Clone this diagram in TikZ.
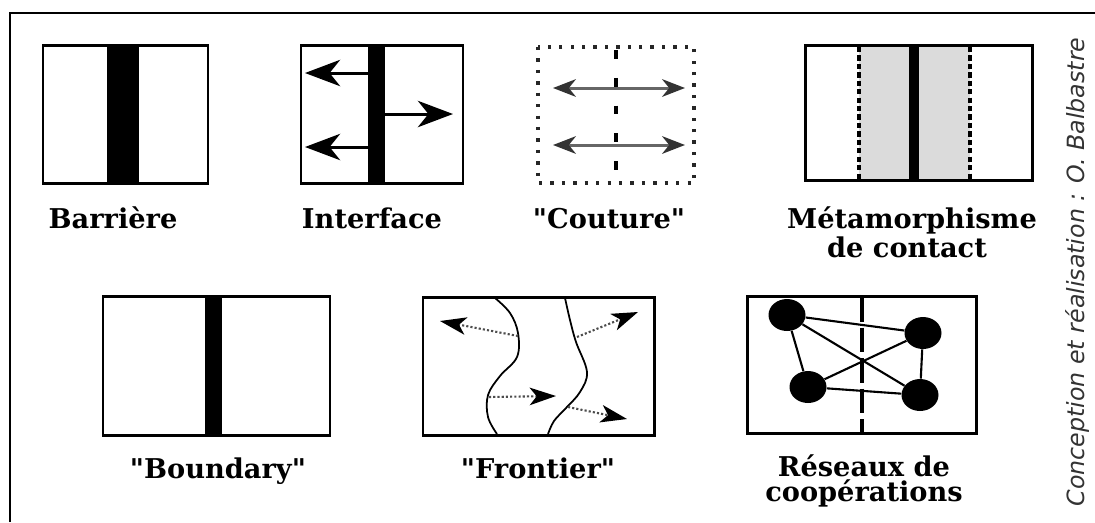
\documentclass[tikz,border=0pt]{standalone}
\usepackage{fontspec}
\setmainfont{DejaVu Serif}[Ligatures=TeXOff]
\newfontfamily\creditfont{DejaVu Sans}
\usetikzlibrary{arrows.meta,shapes.geometric}
\begin{document}
\begin{tikzpicture}[x=0.02cm,y=-0.02cm,
  box/.style={line width=1.7pt},
  lbl/.style={font=\fontsize{15.5}{18}\selectfont\bfseries, anchor=base, inner sep=0pt},
  bigarrow/.style={line width=1.7pt, -{Stealth[length=20pt,width=15pt,inset=6pt]}},
  dblarrow/.style={line width=1.7pt, draw=black!60, {Stealth[length=13pt,width=10pt,inset=4pt,color=black!80]}-{Stealth[length=13pt,width=10pt,inset=4pt,color=black!80]}},
  dotarrow/.style={line width=1.2pt, draw=black!70, dash pattern=on 1.2pt off 1.2pt, -{Stealth[length=15pt,width=10pt,inset=4pt,color=black]}},
  netnode/.style={ellipse, fill=black, minimum width=0.74cm, minimum height=0.64cm, inner sep=0pt},
  netedge/.style={line width=1.2pt},
  curve/.style={line width=1pt}
]
\useasboundingbox (0,0) rectangle (1095,522);
% outer frame
\draw[line width=1.4pt] (10,522) -- (10,13) -- (1095,13);

% ---- Barriere
\fill (107,45) rectangle (139,183);
\draw[box] (43,45) rectangle (208,183);
\node[lbl] (lbarriere) at (113,228) {Barrière};

% ---- Interface
\fill (368,45) rectangle (385,183);
\draw[box] (301,45) rectangle (463,183);
\coordinate (ia1) at (368,73);  \coordinate (ib1) at (305,73);
\coordinate (ia2) at (385,114); \coordinate (ib2) at (453,114);
\coordinate (ia3) at (368,147); \coordinate (ib3) at (305,147);
\draw[bigarrow] (ia1) -- (ib1);
\draw[bigarrow] (ia2) -- (ib2);
\draw[bigarrow] (ia3) -- (ib3);
\node[lbl] (linterface) at (372,228) {Interface};

% ---- Couture
\draw[line width=1.9pt, draw=black!85, dash pattern=on 1.9pt off 4.6pt] (538,47) rectangle (694,183);
\draw[line width=2.3pt, dash pattern=on 5pt off 10.8pt] (616,50) -- (616,180);
\coordinate (ca1) at (553,88);  \coordinate (cb1) at (685,88);
\coordinate (ca2) at (553,145); \coordinate (cb2) at (685,145);
\draw[dblarrow] (ca1) -- (cb1);
\draw[dblarrow] (ca2) -- (cb2);
\node[lbl] (lcouture) at (609,228) {"Couture"};

% ---- Metamorphisme
\fill[black!14] (859,45) rectangle (970,180);
\draw[line width=2pt, dash pattern=on 3pt off 1.8pt] (859,47) -- (859,179);
\draw[line width=2pt, dash pattern=on 3pt off 1.8pt] (970,47) -- (970,179);
\fill (909,45) rectangle (919,180);
\draw[box] (805,45) rectangle (1032,180);
\node[lbl] (lmeta1) at (912,228) {Métamorphisme};
\node[lbl] (lmeta2) at (907,257) {de contact};

% ---- Boundary
\fill (205,296) rectangle (222,435);
\draw[box] (103,296) rectangle (330,435);
\node[lbl] (lboundary) at (218,478) {"Boundary"};

% ---- Frontier
\draw[box] (423,297) rectangle (654,435);
\draw[curve] plot[smooth, tension=0.6] coordinates {(495,298) (510,313) (518,333) (517,357) (500,376) (488,395) (488,417) (497,434)};
\draw[curve] plot[smooth, tension=0.6] coordinates {(565,298) (570,320) (576,342) (587,372) (580,392) (566,408) (554,421) (548,434)};
\coordinate (fa1) at (518,336); \coordinate (fb1) at (440,321);
\coordinate (fa2) at (489,397); \coordinate (fb2) at (556,396);
\coordinate (fa3) at (577,337); \coordinate (fb3) at (638,312);
\coordinate (fa4) at (568,407); \coordinate (fb4) at (627,419);
\draw[dotarrow] (fa1) -- (fb1);
\draw[dotarrow] (fa2) -- (fb2);
\draw[dotarrow] (fa3) -- (fb3);
\draw[dotarrow] (fa4) -- (fb4);
\node[lbl] (lfrontier) at (538,478) {"Frontier"};

% ---- Reseaux
\draw[box] (747,296) rectangle (976,433);
\draw[line width=1.8pt, dash pattern=on 14pt off 3.4pt] (862,297) -- (862,432);
\node[netnode] (n1) at (787,315) {};
\node[netnode] (n2) at (923,333) {};
\node[netnode] (n3) at (808,387) {};
\node[netnode] (n4) at (920,395) {};
\draw[netedge] (n1) -- (n2);
\draw[netedge] (n1) -- (n3);
\draw[netedge] (n1) -- (n4);
\draw[netedge] (n3) -- (n2);
\draw[netedge] (n3) -- (n4);
\draw[netedge] (n2) -- (n4);
\node[lbl] (lres1) at (864,476) {Réseaux de};
\node[lbl] (lres2) at (864,501) {coopérations};

% ---- credit
\node[rotate=90, font=\creditfont\itshape\fontsize{13.5}{15}\selectfont, text=black!80, inner sep=0pt] (credit) at (1077,272) {Conception et réalisation : O. Balbastre};
\end{tikzpicture}
\end{document}
